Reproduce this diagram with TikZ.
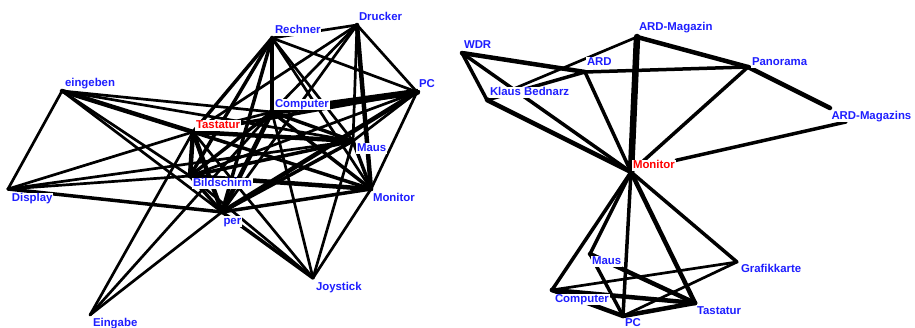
\documentclass[tikz,border=0pt]{standalone}
\usepackage{fontspec}
\setmainfont{Liberation Sans}
\usetikzlibrary{positioning,backgrounds}
\definecolor{TermBlue}{HTML}{1E1EFF}
\definecolor{TermRed}{HTML}{FF0000}

\begin{document}
\begin{tikzpicture}[
    x=1pt, y=-1pt,
    node distance=2pt,
    every node/.style={font=\bfseries\fontsize{11.4}{12}\selectfont},
    term/.style={fill=white,inner sep=0.8pt,text=TermBlue,text height=7.8pt,text depth=1.6pt},
    hotterm/.style={term,text=TermRed},
    link/.style={line width=2.7pt,line cap=round},
    midlink/.style={line width=3.5pt,line cap=round},
    heavylink/.style={line width=4.5pt,line cap=round},
    toplink/.style={line width=6.5pt,line cap=round}
]
  \useasboundingbox (0,0) rectangle (915,328);

  % left graph: Tastatur
  \coordinate (drucker) at (357,25);
  \coordinate (rechner) at (272,38);
  \coordinate (pc) at (417,92);
  \coordinate (eingeben) at (62,91);
  \coordinate (comp) at (272,112);
  \coordinate (tast) at (193,132);
  \coordinate (maus) at (353,141);
  \coordinate (bild) at (190,176);
  \coordinate (display) at (8,189);
  \coordinate (mon) at (371,189);
  \coordinate (per) at (222,212);
  \coordinate (joy) at (313,278);
  \coordinate (eingabe) at (90,315);

  \node[term, above right=2pt and 1pt of drucker] (druckerL) {Drucker};
  \node[term, above right=2pt and 2pt of rechner] (rechnerL) {Rechner};
  \node[term, above right=2pt and 1pt of pc] (pcL) {PC};
  \node[term, above right=2pt and 2pt of eingeben] (eingebenL) {eingeben};
  \node[term, above right=2pt and 2pt of comp] (compL) {Computer};
  \node[hotterm, above right=1pt and 2pt of tast] (tastL) {Tastatur};
  \node[term, below right=2pt and 3pt of maus] (mausL) {Maus};
  \node[term, below right=1.5pt and 2pt of bild] (bildL) {Bildschirm};
  \node[term, below right=4pt and 3pt of display] (displayL) {Display};
  \node[term, below right=4pt and 1pt of mon] (monL) {Monitor};
  \node[term, below right=4pt and 0.5pt of per] (perL) {per};
  \node[term, below right=4pt and 2pt of joy] (joyL) {Joystick};
  \node[term, below right=2.5pt and 2pt of eingabe] (eingabeL) {Eingabe};

  % right graph: Monitor
  \coordinate (wdr) at (462,53);
  \coordinate (ardmag) at (637,37);
  \coordinate (ard) at (585,72);
  \coordinate (panorama) at (748,67);
  \coordinate (klaus) at (487,100);
  \coordinate (ardmags) at (830,108);
  \coordinate (mon2) at (631,172);
  \coordinate (maus2) at (590,254);
  \coordinate (grafik) at (737,262);
  \coordinate (comp2) at (552,290);
  \coordinate (tast2) at (695,303);
  \coordinate (pc2) at (623,316);

  \node[term, above right=2pt and 1pt of wdr] (wdrL) {WDR};
  \node[term, above right=3.5pt and 1pt of ardmag] (ardmagL) {ARD-Magazin};
  \node[term, above right=3.5pt and 1pt of ard] (ardL) {ARD};
  \node[term, above right=-1pt and 3pt of panorama] (panoramaL) {Panorama};
  \node[term, above right=2pt and 2pt of klaus] (klausL) {Klaus Bednarz};
  \node[term, below right=2.5pt and 0.5pt of ardmags] (ardmagsL) {ARD-Magazins};
  \node[hotterm, above right=1pt and 1pt of mon2] (mon2L) {Monitor};
  \node[term, below right=1.5pt and 1pt of maus2] (maus2L) {Maus};
  \node[term, below right=1.5pt and 3pt of grafik] (grafikL) {Grafikkarte};
  \node[term, below right=3.5pt and 2pt of comp2] (comp2L) {Computer};
  \node[term, below right=2.5pt and 1pt of tast2] (tast2L) {Tastatur};
  \node[term, below right=1.5pt and 1pt of pc2] (pc2L) {PC};

  \begin{scope}[on background layer]
    % left edges
    \foreach \a/\b in {rechner/drucker, rechner/pc, rechner/maus, rechner/mon,
        drucker/pc, drucker/comp, drucker/tast, drucker/maus, drucker/per,
        pc/maus, pc/mon, pc/bild, eingeben/display, eingeben/comp,
        eingeben/bild, eingeben/per, eingeben/maus, display/tast,
        display/bild, display/maus, comp/tast, comp/joy, comp/eingabe,
        tast/joy, tast/eingabe, maus/joy, bild/joy, mon/joy, per/eingabe}
      \draw[link] (\a) -- (\b);
    \foreach \a/\b in {rechner/tast, rechner/bild, rechner/per, pc/tast,
        display/per, comp/maus, comp/mon, comp/bild, tast/mon, maus/bild,
        maus/mon, maus/per, bild/per, per/joy, mon/per}
      \draw[midlink] (\a) -- (\b);
    \foreach \a/\b in {rechner/comp, drucker/mon, pc/per, eingeben/tast,
        comp/per, tast/maus, tast/bild, tast/per, bild/mon}
      \draw[heavylink] (\a) -- (\b);
    \draw[toplink] (pc) -- (comp);

    % right edges
    \foreach \a/\b in {klaus/ardmag, comp2/grafik, pc2/grafik}
      \draw[link] (\a) -- (\b);
    \foreach \a/\b in {wdr/klaus, wdr/mon2, klaus/ard, ard/mon2, ard/panorama,
        panorama/mon2, mon2/comp2, mon2/maus2, mon2/pc2, mon2/grafik,
        maus2/pc2, mon2L/ardmagsL}
      \draw[midlink] (\a) -- (\b);
    \foreach \a/\b in {wdr/ard, klaus/mon2, ardmag/panorama, panorama/ardmags,
        mon2/tast2, comp2/tast2, comp2/pc2, maus2/tast2, pc2/tast2}
      \draw[heavylink] (\a) -- (\b);
    \draw[toplink] (ardmag) -- (mon2);
  \end{scope}
\end{tikzpicture}
\end{document}
